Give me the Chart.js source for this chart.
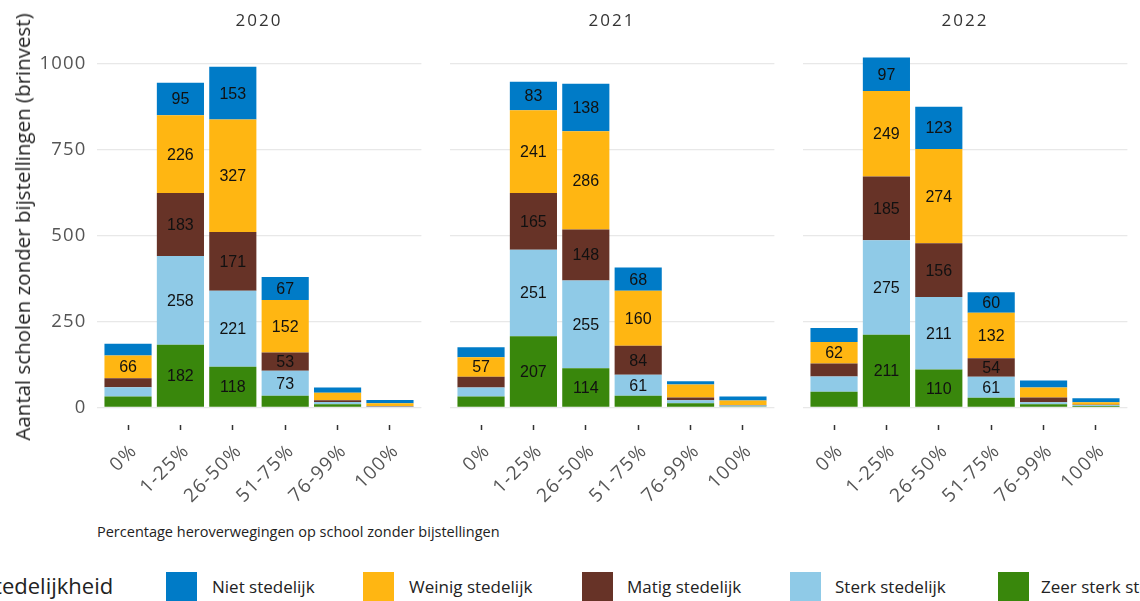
<!DOCTYPE html>
<html>
<head>
<meta charset="utf-8">
<script src="https://cdn.jsdelivr.net/npm/chart.js@4.4.1/dist/chart.umd.min.js"></script>
<style>
  html,body{margin:0;padding:0;background:#fff;width:1140px;height:601px;overflow:hidden;position:relative;font-family:"Open Sans",sans-serif;}
  canvas{position:absolute;top:0;}
  .facet{position:absolute;top:8px;width:200px;text-align:center;font-size:17px;letter-spacing:2px;color:#333;}
  #ytitle{position:absolute;left:22px;top:227px;transform:translate(-50%,-50%) rotate(-90deg);white-space:nowrap;font-size:20.5px;color:#222;}
  #xtitle{position:absolute;left:97px;top:522px;font-size:14.5px;color:#222;white-space:nowrap;}
  .lg{position:absolute;white-space:nowrap;}
  .key{position:absolute;top:572px;width:31px;height:29px;}
  .lt{position:absolute;top:575px;font-size:17px;color:#222;white-space:nowrap;}
</style>
</head>
<body>
<script>
const categories = ['0%','1-25%','26-50%','51-75%','76-99%','100%'];
const years = ['2020','2021','2022'];
const seriesNames = ['Zeer sterk stedelijk','Sterk stedelijk','Matig stedelijk','Weinig stedelijk','Niet stedelijk'];
const seriesColors = ['#39870C','#8FCAE7','#673327','#FFB612','#007BC7'];
const yTicks = [0,250,500,750,1000];

const zeer2020   = [32,182,118,34,9,2];
const sterk2020  = [27,258,221,73,7,1];
const matig2020  = [26,183,171,53,5,1];
const weinig2020 = [66,226,327,152,22,8];
const niet2020   = [34,95,153,67,15,10];

const zeer2021   = [32,207,114,34,12,3];
const sterk2021  = [26,251,255,61,9,3];
const matig2021  = [31,165,148,84,8,1];
const weinig2021 = [57,241,286,160,38,13];
const niet2021   = [29,83,138,68,9,12];

const zeer2022   = [46,211,110,28,9,4];
const sterk2022  = [44,275,211,61,6,3];
const matig2022  = [38,185,156,54,14,1];
const weinig2022 = [62,249,274,132,29,7];
const niet2022   = [41,97,123,60,20,12];

const yearSeries = [
  [zeer2020,sterk2020,matig2020,weinig2020,niet2020],
  [zeer2021,sterk2021,matig2021,weinig2021,niet2021],
  [zeer2022,sterk2022,matig2022,weinig2022,niet2022]
];

const spacingPlugin = {
  id:'spacing',
  beforeDraw(chart){ chart.ctx.letterSpacing = '1.2px'; },
  afterDraw(chart){ chart.ctx.letterSpacing = '0px'; }
};

const labelPlugin = {
  id:'segLabels',
  afterDatasetsDraw(chart){
    const ctx = chart.ctx;
    ctx.save();
    ctx.letterSpacing = '0px';
    ctx.font = '16px "Liberation Sans", Arial, sans-serif';
    ctx.fillStyle = '#111';
    ctx.textAlign = 'center';
    ctx.textBaseline = 'middle';
    chart.data.datasets.forEach((ds,di)=>{
      const meta = chart.getDatasetMeta(di);
      meta.data.forEach((el,i)=>{
        const v = ds.data[i].y;
        if (v >= 50) {
          ctx.fillText(String(v), el.x, (el.y + el.base)/2 + 1);
        }
      });
    });
    ctx.restore();
  }
};

const canvasLefts = [0, 353, 706];
const facetCenters = [259, 612, 965];

years.forEach((yr, p)=>{
  const c = document.createElement('canvas');
  c.width = 440; c.height = 520;
  c.style.left = canvasLefts[p] + 'px';
  document.body.appendChild(c);

  const f = document.createElement('div');
  f.className = 'facet';
  f.style.left = (facetCenters[p]-100) + 'px';
  f.textContent = yr;
  document.body.appendChild(f);

  const datasets = seriesNames.map((name, si)=>({
    label: name,
    data: yearSeries[p][si].map((v,i)=>({x:i+1, y:v})),
    backgroundColor: seriesColors[si],
    borderWidth: 0,
    barPercentage: 0.9,
    categoryPercentage: 1.0
  }));

  new Chart(c, {
    type:'bar',
    data:{datasets},
    options:{
      responsive:false,
      animation:false,
      devicePixelRatio:1,
      layout:{padding:{left:0,right:18.6,top:40,bottom:0}},
      plugins:{legend:{display:false},tooltip:{enabled:false},title:{display:false}},
      scales:{
        x:{
          type:'linear', stacked:true, min:0.4, max:6.6, offset:false,
          afterBuildTicks(s){ s.ticks = categories.map((_,i)=>({value:i+1})); },
          afterFit(s){ s.height = 95; },
          border:{display:false},
          grid:{display:true, offset:false, drawOnChartArea:false, drawTicks:true, tickLength:5, tickColor:'#333', tickWidth:1.5},
          ticks:{
            autoSkip:false, maxRotation:45, minRotation:45, padding:10, labelOffset:6,
            color:'#555', font:{family:'"Open Sans", sans-serif', size:19},
            callback:(v)=>categories[Math.round(v)-1] ?? ''
          }
        },
        y:{
          stacked:true, min:-51, max:1068,
          afterBuildTicks(s){ s.ticks = yTicks.map(v=>({value:v})); },
          afterFit(s){ s.width = 96.6; },
          border:{display:false},
          grid:{color:'#e8e8e8', lineWidth:1.2, drawTicks:false},
          ticks:{
            padding:10, color:'#555', font:{family:'"Open Sans", sans-serif', size:18.5},
            callback:(v)=> p===0 ? String(v) : ''
          }
        }
      }
    },
    plugins:[spacingPlugin, labelPlugin]
  });
});
</script>
<div id="ytitle">Aantal scholen zonder bijstellingen (brinvest)</div>
<div id="xtitle">Percentage heroverwegingen op school zonder bijstellingen</div>
<div class="lg" style="left:-18px;top:570px;font-size:22px;color:#222;">Stedelijkheid</div>
<div class="key" style="left:166px;background:#007BC7"></div><div class="lt" style="left:212px">Niet stedelijk</div>
<div class="key" style="left:363px;background:#FFB612"></div><div class="lt" style="left:409px">Weinig stedelijk</div>
<div class="key" style="left:582px;background:#673327"></div><div class="lt" style="left:627px">Matig stedelijk</div>
<div class="key" style="left:790px;background:#8FCAE7"></div><div class="lt" style="left:835px">Sterk stedelijk</div>
<div class="key" style="left:998px;background:#39870C"></div><div class="lt" style="left:1041px">Zeer sterk stedelijk</div>
</body>
</html>
